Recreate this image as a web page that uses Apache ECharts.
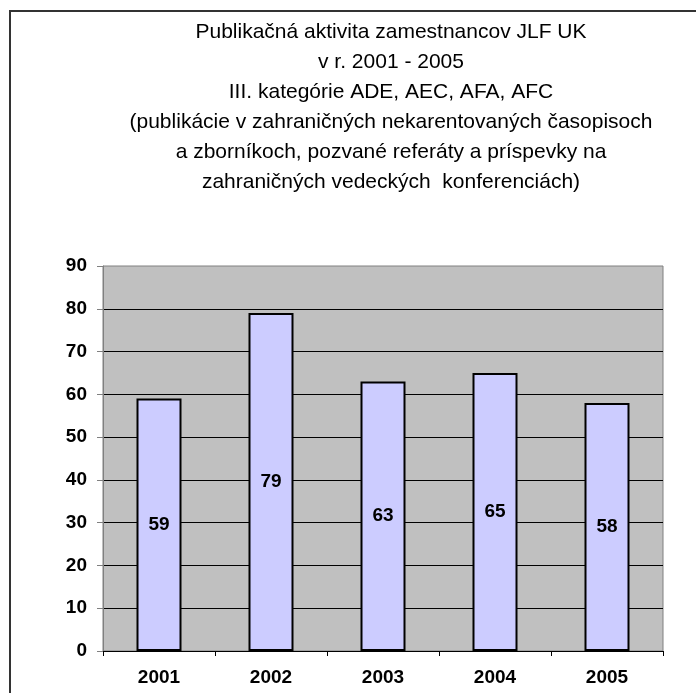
<!DOCTYPE html>
<html lang="sk">
<head>
<meta charset="utf-8">
<title>Publikačná aktivita</title>
<script src="https://cdn.jsdelivr.net/npm/echarts@6/dist/echarts.min.js"></script>
<style>
  html, body { margin: 0; padding: 0; background: #fff; }
  #container { width: 696px; height: 693px; }
</style>
</head>
<body>
<div id="container"></div>
<script>
// data
var titleLines = [
  'Publikačná aktivita zamestnancov JLF UK',
  'v r. 2001 - 2005',
  'III. kategórie ADE, AEC, AFA, AFC',
  '(publikácie v zahraničných nekarentovaných časopisoch',
  'a zborníkoch, pozvané referáty a príspevky na',
  'zahraničných vedeckých  konferenciách)'
];
var years = ['2001', '2002', '2003', '2004', '2005'];
var counts = [59, 79, 63, 65, 58];
var yMin = 0, yMax = 90, yStep = 10;

var myChart = echarts.init(document.getElementById('container'));
var boldFont = { fontFamily: 'Liberation Sans', fontWeight: 'bold', fontSize: 19, color: '#000' };

var option = {
  backgroundColor: '#fff',
  animation: false,
  title: {
    text: titleLines.join('\n'),
    left: 386,
    top: 12,
    textAlign: 'center',
    textStyle: {
      fontFamily: 'Liberation Sans',
      fontWeight: 'normal',
      fontSize: 21,
      lineHeight: 30,
      color: '#000'
    }
  },
  graphic: [{
    type: 'rect',
    shape: { x: 10, y: 11, width: 720, height: 720 },
    style: { fill: 'none', stroke: '#333', lineWidth: 2 },
    silent: true
  }],
  grid: {
    left: 103, right: 33, top: 266, bottom: 42,
    show: true,
    backgroundColor: '#c0c0c0',
    borderColor: '#808080',
    borderWidth: 1
  },
  xAxis: {
    type: 'category',
    data: years,
    axisLine: { lineStyle: { color: '#000', width: 1 } },
    axisTick: { show: true, length: 5, lineStyle: { color: '#000' } },
    axisLabel: Object.assign({ margin: 17 }, boldFont)
  },
  yAxis: {
    type: 'value',
    min: yMin, max: yMax, interval: yStep,
    axisLine: { show: true, lineStyle: { color: '#808080' } },
    axisTick: { show: true, length: 6, lineStyle: { color: '#808080' } },
    axisLabel: Object.assign({ margin: 16 }, boldFont),
    splitLine: { show: true, showMinLine: false, showMaxLine: false, lineStyle: { color: '#000', width: 1 } }
  },
  series: [{
    type: 'bar',
    data: counts,
    barWidth: 45,
    itemStyle: { color: '#ccccff', borderColor: '#000', borderWidth: 2 },
    label: Object.assign({ show: true, position: 'inside' }, boldFont)
  }]
};
myChart.setOption(option);
</script>
</body>
</html>
